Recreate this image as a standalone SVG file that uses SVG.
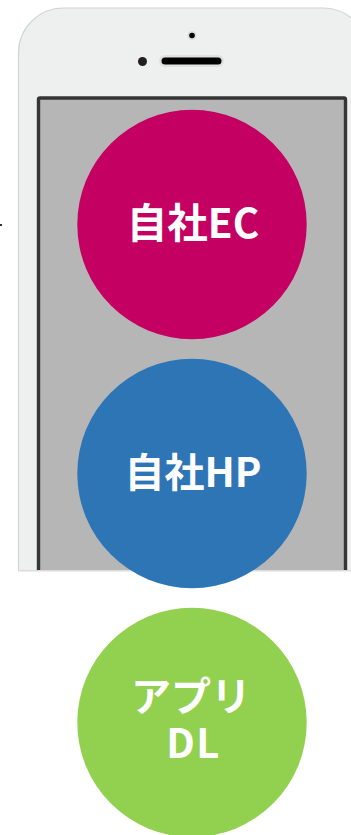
<svg xmlns="http://www.w3.org/2000/svg" width="351" height="835" viewBox="0 0 351 835">
<style>
.lbl{font-family:"Noto Sans CJK JP","Noto Sans",sans-serif;font-weight:700;fill:#fff;text-anchor:middle}
</style>
<defs><clipPath id="c"><rect x="0" y="0" width="351" height="571"/></clipPath></defs>
<rect width="351" height="835" fill="#fff"/>
<g id="phone">
<g clip-path="url(#c)">
<rect x="18.500" y="8" width="349.500" height="700" rx="45" fill="#eef0f0" stroke="#d2d4d4" stroke-width="1.200"/>
<rect x="38.500" y="98" width="307" height="500" rx="1.500" fill="#b6b6b6" stroke="#353535" stroke-width="3.400"/>
</g>
<rect x="18" y="570" width="333" height="1.500" fill="#dcdcdc"/>
<circle cx="192" cy="35.500" r="4.500" fill="#dcdede"/>
<circle cx="192" cy="35.500" r="2.800" fill="#000"/>
<rect x="159" y="55" width="65" height="12" rx="6" fill="#dfe1e1"/>
<rect x="161.500" y="57.500" width="60" height="7" rx="3.500" fill="#000"/>
<circle cx="142.500" cy="61.500" r="4.500" fill="#231f20"/>
<rect x="0" y="224" width="2" height="2" fill="#333"/>
</g>
<g id="node-ec"><circle cx="192" cy="224.500" r="114.700" fill="#c40062"/><text class="lbl" x="193" y="237.500" font-size="40.500">自社EC</text></g>
<g id="node-hp"><circle cx="192" cy="473.500" r="114.700" fill="#2e75b6"/><text class="lbl" x="193" y="486.500" font-size="40">自社HP</text></g>
<g id="node-dl"><circle cx="192" cy="722.500" r="114.700" fill="#92d050"/><text class="lbl" font-size="40"><tspan x="191" y="711">アプリ</tspan><tspan x="193.500" y="758" letter-spacing="1.500">DL</tspan></text></g>
</svg>
